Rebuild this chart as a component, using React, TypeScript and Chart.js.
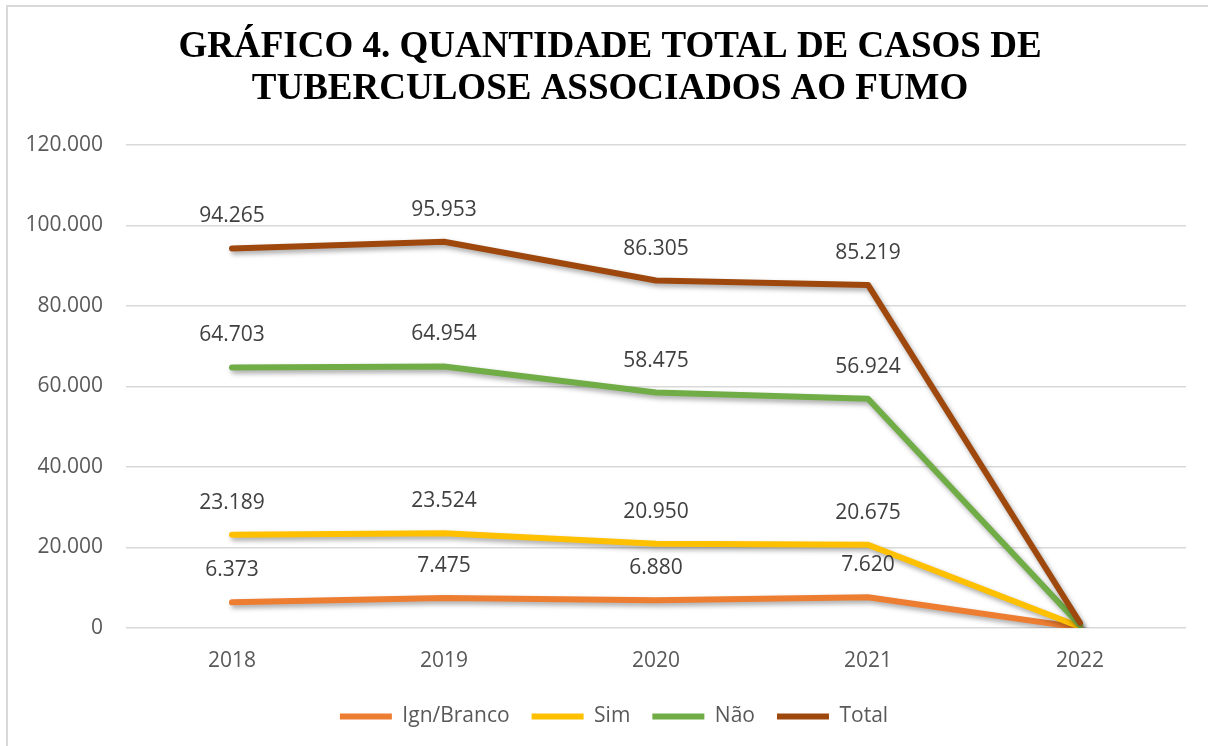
import React, { useEffect, useRef } from "react";
import { Chart, registerables } from "chart.js";

Chart.register(...registerables);

const categories = ["2018", "2019", "2020", "2021", "2022"];
const ignBranco = [6373, 7475, 6880, 7620, 100];
const sim = [23189, 23524, 20950, 20675, 300];
const nao = [64703, 64954, 58475, 56924, 700];
const total = [94265, 95953, 86305, 85219, 1300];
const labelShown = [true, true, true, true, false];
const titleLines = ["GRÁFICO 4. QUANTIDADE TOTAL DE CASOS DE", "TUBERCULOSE ASSOCIADOS AO FUMO"];

const fmt = (v: number) => String(Math.round(v)).replace(/\B(?=(\d{3})+(?!\d))/g, ".");

const shadowPlugin = {
  id: "lineShadow",
  beforeDatasetDraw(chart: any) {
    const ctx = chart.ctx;
    ctx.save();
    ctx.shadowColor = "rgba(0,0,0,0.35)";
    ctx.shadowBlur = 5;
    ctx.shadowOffsetX = 2;
    ctx.shadowOffsetY = 3;
  },
  afterDatasetDraw(chart: any) {
    chart.ctx.restore();
  },
};

const shiftPlugin = {
  id: "shiftBlocks",
  afterLayout(chart: any) {
    if (chart.legend) {
      chart.legend.left += 10;
      chart.legend.right += 10;
    }
    if (chart.titleBlock) {
      chart.titleBlock.left += 6;
      chart.titleBlock.right += 6;
    }
  },
};

const valueLabelPlugin = {
  id: "valueLabels",
  afterDatasetsDraw(chart: any) {
    const ctx = chart.ctx;
    ctx.save();
    ctx.font = '21px "Open Sans"';
    ctx.fillStyle = "#404040";
    ctx.textAlign = "center";
    ctx.textBaseline = "middle";
    chart.data.datasets.forEach((ds: any, i: number) => {
      const meta = chart.getDatasetMeta(i);
      meta.data.forEach((pt: any, j: number) => {
        if (!labelShown[j]) return;
        ctx.fillText(fmt(ds.data[j]), pt.x, pt.y - 32);
      });
    });
    ctx.restore();
  },
};

export default function App() {
  const ref = useRef<HTMLCanvasElement>(null);

  useEffect(() => {
    if (!ref.current) return;
    const mk = (label: string, data: number[], color: string, order: number) => ({
      label,
      data,
      borderColor: color,
      backgroundColor: color,
      borderWidth: 6,
      borderCapStyle: "round" as const,
      borderJoinStyle: "round" as const,
      pointRadius: 0,
      tension: 0,
      fill: false,
      order,
    });
    const chart = new Chart(ref.current, {
      type: "line",
      data: {
        labels: categories,
        datasets: [
          mk("Ign/Branco", ignBranco, "#ED7D31", 3),
          mk("Sim", sim, "#FFC000", 2),
          mk("Não", nao, "#70AD47", 1),
          mk("Total", total, "#9E480E", 0),
        ],
      },
      options: {
        animation: false,
        responsive: false,
        devicePixelRatio: 1,
        layout: { padding: { left: 22, right: 22, top: 0, bottom: 9 } },
        plugins: {
          title: {
            display: true,
            text: titleLines,
            color: "#000000",
            font: { family: '"Liberation Serif", "Times New Roman", serif', size: 37, weight: "bold", lineHeight: 1.12 },
            padding: { top: 27, bottom: 35 },
          },
          legend: {
            position: "bottom",
            labels: {
              usePointStyle: true,
              pointStyle: "line",
              pointStyleWidth: 52,
              padding: 22,
              color: "#595959",
              font: { family: '"Open Sans"', size: 21 },
              sort: (a: any, b: any) => a.datasetIndex - b.datasetIndex,
            },
          },
          tooltip: { enabled: false },
        },
        scales: {
          x: {
            offset: true,
            grid: { display: false },
            border: { display: false },
            ticks: { color: "#595959", font: { family: '"Open Sans"', size: 21 }, padding: 12 },
            afterFit: (s: any) => {
              s.height = 56;
            },
          },
          y: {
            min: 0,
            max: 120000,
            ticks: {
              stepSize: 20000,
              color: "#595959",
              font: { family: '"Open Sans"', size: 21 },
              padding: 23,
              callback: (v: any) => fmt(Number(v)),
            },
            grid: { color: "#d9d9d9", lineWidth: 1.5, drawTicks: false },
            border: { display: false },
            afterFit: (s: any) => {
              s.width = 104;
            },
          },
        },
      },
      plugins: [shadowPlugin, shiftPlugin, valueLabelPlugin],
    });
    return () => chart.destroy();
  }, []);

  return (
    <div style={{ position: "fixed", left: 0, top: 0, width: 1208, height: 746, overflow: "hidden", background: "#ffffff" }}>
      <div
        style={{
          position: "absolute",
          left: 6,
          top: 5,
          width: 1300,
          height: 900,
          borderTop: "2px solid #d9d9d9",
          borderLeft: "2px solid #d9d9d9",
        }}
      />
      <canvas ref={ref} width={1208} height={746} style={{ position: "absolute", left: 0, top: 0 }} />
    </div>
  );
}
